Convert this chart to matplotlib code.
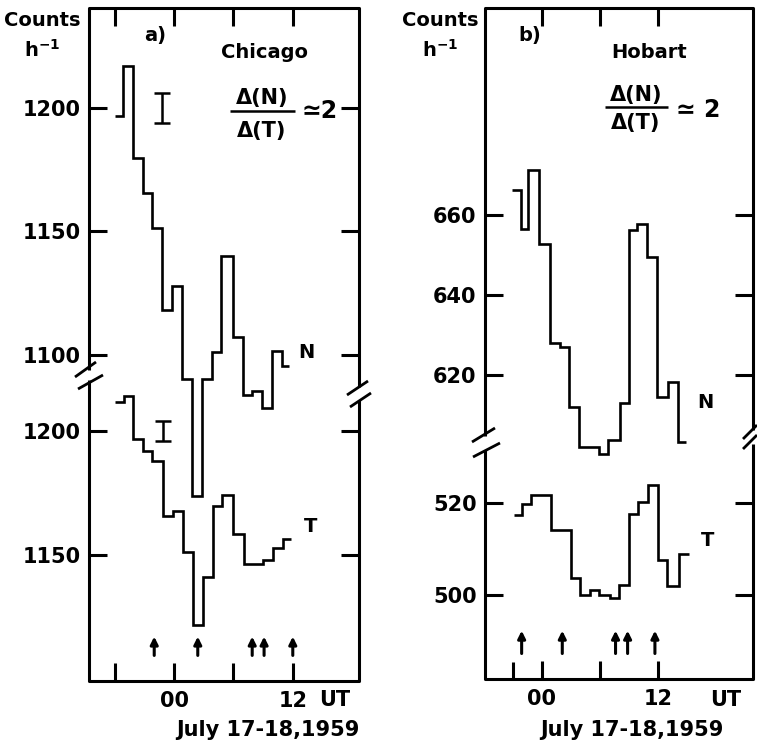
import matplotlib
matplotlib.use("Agg")
import matplotlib.pyplot as plt
from matplotlib.lines import Line2D

# ---------------- data ----------------
# Panel a) Chicago  (hours UT relative to 00, July 17-18 1959)
a_N_edges = [-5.96, -5.2, -4.17, -3.16, -2.19, -1.18, -0.23, 0.78, 1.79, 2.86,
             3.81, 4.75, 5.93, 6.94, 7.9, 8.86, 9.93, 10.88, 11.6]
a_N_vals = [1196.5, 1217, 1179.6, 1165.5, 1151.3, 1118.2, 1127.7, 1090, 1042.7,
            1090.3, 1101, 1140, 1107.2, 1083.8, 1085.5, 1078.4, 1101.7, 1095.5]
a_T_edges = [-5.96, -5.1, -4.14, -3.16, -2.19, -1.13, -0.07, 0.94, 1.9, 2.91,
             3.94, 4.87, 5.99, 7.07, 8.03, 9.0, 9.97, 10.98, 11.85]
a_T_vals = [1211.7, 1214, 1196.6, 1192, 1187.7, 1165.7, 1167.8, 1151.3, 1121.7,
            1141, 1169.8, 1174.1, 1158.3, 1146.2, 1146.2, 1147.9, 1152.6, 1156.4]
a_arrows = [-2.0, 2.4, 7.9, 9.1, 12.0]
a_err_N = (-1.24, 1200, 6)
a_err_T = (-1.08, 1200, 4)
a_N_ticks = [1100, 1150, 1200]
a_T_ticks = [1150, 1200]

# Panel b) Hobart
b_N_edges = [-3.09, -2.16, -1.37, -0.25, 0.85, 1.88, 2.84, 3.87, 4.88, 5.9,
             6.85, 8.06, 9.02, 9.78, 10.87, 11.9, 13.0, 14.0, 14.8]
b_N_vals = [666.25, 656.5, 671.25, 652.75, 628.1, 627.1, 612.1, 602.1, 602.1,
            600.25, 603.75, 612.9, 656.25, 657.75, 649.6, 614.6, 618.2, 603.3]
b_T_edges = [-2.88, -1.98, -1.08, -0.1, 0.92, 1.96, 3.0, 3.9, 4.96, 5.88,
             6.99, 7.95, 8.98, 9.95, 10.98, 11.93, 12.89, 14.09, 15.15]
b_T_vals = [517.4, 519.8, 521.8, 521.8, 514.2, 514.2, 503.7, 500.1, 501.2,
            500.1, 499.3, 502.2, 517.7, 520.2, 524.0, 507.7, 501.9, 509.0]
b_arrows = [-2.06, 2.12, 7.6, 8.84, 11.65]
b_N_ticks = [620, 640, 660]
b_T_ticks = [500, 520]

# ---------------- figure ----------------
W, H = 757, 744
fig = plt.figure(figsize=(W / 100, H / 100), dpi=100)
fig.patch.set_facecolor("white")

FONT = "DejaVu Sans"
plt.rcParams["font.family"] = FONT
plt.rcParams["font.weight"] = "bold"
LW = 2.2
DLW = 1.9


def P(x, y):
    return (x / W, 1 - y / H)


def fline(pts, lw=LW):
    xs = [p[0] / W for p in pts]
    ys = [1 - p[1] / H for p in pts]
    fig.add_artist(Line2D(xs, ys, transform=fig.transFigure, color="black",
                          lw=lw, solid_capstyle="butt"))


def ftext(x, y, s, size=14, ha="center", va="center", **kw):
    fig.text(x / W, 1 - y / H, s, ha=ha, va=va, fontsize=size,
             fontweight="bold", family=FONT, **kw)


def make_panel(rect_px, xlim, ylimN, ylimT, xt_major, xt_minor, xlabels):
    x0, x1, yt, yb = rect_px
    rect = [x0 / W, 1 - yb / H, (x1 - x0) / W, (yb - yt) / H]
    axN = fig.add_axes(rect)
    axT = fig.add_axes(rect)
    for ax in (axN, axT):
        ax.set_xlim(*xlim)
        for s in ax.spines.values():
            s.set_visible(False)
        ax.patch.set_alpha(0)
    axN.set_ylim(*ylimN)
    axT.set_ylim(*ylimT)
    axN.set_xticks(xt_major)
    axN.set_xticklabels(xlabels)
    if xt_minor:
        axN.set_xticks(xt_minor, minor=True)
        axN.tick_params(axis="x", which="minor", direction="in", length=12,
                        width=LW, top=False, bottom=True)
    axN.tick_params(axis="x", which="major", direction="in", length=13,
                    width=LW, top=True, bottom=True, pad=7, labelsize=15)
    axT.set_xticks([])
    for ax in (axN, axT):
        ax.tick_params(axis="y", direction="in", length=13, width=LW,
                       left=True, right=True, labelleft=True, labelright=False,
                       pad=6, labelsize=15)
    for lab in axN.get_xticklabels() + axN.get_yticklabels() + axT.get_yticklabels():
        lab.set_fontweight("bold")
    return axN, axT


def draw_series(axN, axT, Ne, Nv, Te, Tv):
    axN.stairs(Nv, Ne, baseline=None, color="black", lw=DLW)
    axT.stairs(Tv, Te, baseline=None, color="black", lw=DLW)


def draw_arrows(ax, xs, y0, y1):
    for x in xs:
        ax.annotate("", xy=(x, y1), xytext=(x, y0),
                    xycoords=("data", "axes fraction"),
                    textcoords=("data", "axes fraction"),
                    arrowprops=dict(arrowstyle="-|>", lw=2.2, color="black",
                                    mutation_scale=11, shrinkA=0, shrinkB=0))


# ---------- panel a ----------
aN, aT = make_panel((89, 359, 8, 681), (-8.59, 18.69), (967.9, 1240.4),
                    (1099.3, 1370.0), [-6, 0, 6, 12], None, ["", "00", "", "12"])
aN.set_yticks(a_N_ticks)
aT.set_yticks(a_T_ticks)
draw_series(aN, aT, a_N_edges, a_N_vals, a_T_edges, a_T_vals)
aN.errorbar([a_err_N[0]], [a_err_N[1]], yerr=[a_err_N[2]], fmt="none",
            ecolor="black", elinewidth=1.8, capsize=6, capthick=1.8)
aT.errorbar([a_err_T[0]], [a_err_T[1]], yerr=[a_err_T[2]], fmt="none",
            ecolor="black", elinewidth=1.8, capsize=6, capthick=1.8)
draw_arrows(aN, a_arrows, 0.038, 0.066)

# frame a
fline([(89, 370), (89, 8), (359, 8), (359, 387)])
fline([(89, 380), (89, 681), (359, 681), (359, 400)])
fline([(75, 377), (96, 362)], lw=2.0)
fline([(78, 389), (103, 375)], lw=2.0)
fline([(347, 395), (368, 381)], lw=2.0)
fline([(350, 407), (371, 393)], lw=2.0)

# ---------- panel b ----------
bN, bT = make_panel((485, 753, 8, 679), (-5.83, 21.74), (544.0, 711.75),
                    (481.7, 628.0), [0, 6, 12], [-3], ["00", "", "12"])
bN.set_yticks(b_N_ticks)
bT.set_yticks(b_T_ticks)
draw_series(bN, bT, b_N_edges, b_N_vals, b_T_edges, b_T_vals)
draw_arrows(bN, b_arrows, 0.038, 0.072)

fline([(485, 436), (485, 8), (753, 8), (753, 430)])
fline([(485, 450), (485, 679), (753, 679), (753, 444)])
fline([(472, 442), (495, 428)], lw=2.0)
fline([(473, 457), (500, 443)], lw=2.0)
fline([(743, 439), (757, 425)], lw=2.0)
fline([(743, 449), (757, 435)], lw=2.0)

# ---------- texts ----------
ftext(42, 20, "Counts", 14)
ftext(42, 50, r"h$^{\mathbf{-1}}$", 14)
ftext(155, 35, "a)", 14)
ftext(265, 53, "Chicago", 14)
ftext(262, 98, "Δ(N)", 15)
fline([(230, 111), (295, 111)], lw=1.8)
ftext(262, 131, "Δ(T)", 15)
ftext(320, 111, "≃2", 17)
ftext(306, 352, "N", 14)
ftext(311, 527, "T", 14)
ftext(335, 700, "UT", 15)
ftext(268, 730, "July 17-18,1959", 15)

ftext(440, 20, "Counts", 14)
ftext(440, 50, r"h$^{\mathbf{-1}}$", 14)
ftext(530, 35, "b)", 14)
ftext(649, 53, "Hobart", 14)
ftext(636, 95, "Δ(N)", 15)
fline([(605, 107), (668, 107)], lw=1.8)
ftext(636, 123, "Δ(T)", 15)
ftext(698, 110, "≃ 2", 17)
ftext(705, 403, "N", 14)
ftext(708, 540, "T", 14)
ftext(726, 700, "UT", 15)
ftext(632, 730, "July 17-18,1959", 15)

fig.savefig("out.png", dpi=100, facecolor="white")
